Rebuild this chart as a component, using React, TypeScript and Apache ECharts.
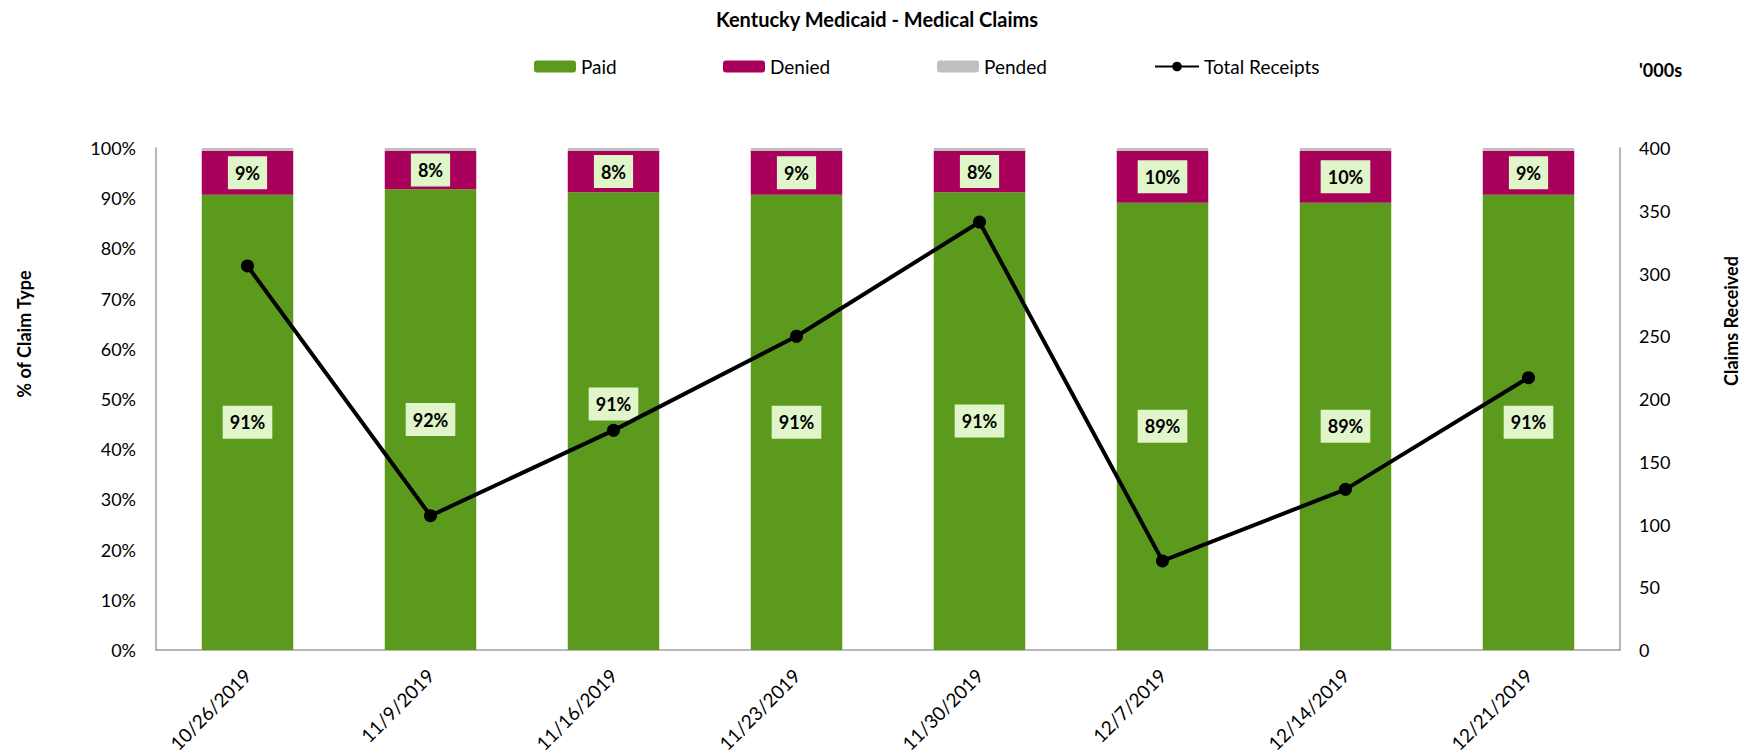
import React, { useEffect, useRef } from "react";
import * as echarts from "echarts";

const categories = ["10/26/2019", "11/9/2019", "11/16/2019", "11/23/2019", "11/30/2019", "12/7/2019", "12/14/2019", "12/21/2019"];
const paidPct = [90.7, 91.8, 91.2, 90.7, 91.2, 89.1, 89.1, 90.7];
const deniedPct = [8.7, 7.6, 8.2, 8.7, 8.2, 10.3, 10.3, 8.7];
const pendedPct = [0.6, 0.6, 0.6, 0.6, 0.6, 0.6, 0.6, 0.6];
const totalReceipts = [306, 107, 175, 250, 341, 71, 128, 217];
const leftTicks = { min: 0, max: 100, interval: 10 };
const rightTicks = { min: 0, max: 400, interval: 50 };

const FONT = "Lato, 'Open Sans', sans-serif";
const GREEN = "#5B9A1D";
const MAGENTA = "#A8005B";
const GRAY = "#C0C0C0";
const LABEL_BG = "#E1F5CA";

const pctLabel = (offset?: number[]) => ({
  show: true,
  position: "inside",
  formatter: (p: any) => Math.round(p.value) + "%",
  color: "#000",
  fontFamily: FONT,
  fontWeight: "bold",
  fontSize: 18,
  lineHeight: 18,
  backgroundColor: LABEL_BG,
  padding: [8, 7, 7, 7],
  ...(offset ? { offset } : {}),
});

export default function App() {
  const ref = useRef<HTMLDivElement>(null);
  useEffect(() => {
    if (!ref.current) return;
    const chart = echarts.init(ref.current, null, { renderer: "svg" });
    const paidData = paidPct.map((v, i) =>
      i === 2 ? { value: v, label: pctLabel([0, -17]) } : v
    );
    const legendBase = {
      top: 57,
      padding: 0,
      itemWidth: 42,
      itemHeight: 12,
      itemGap: 4,
      textStyle: { fontFamily: FONT, fontSize: 19, color: "#000" },
    };
    const axisName = (text: string, x: number, y: number) => ({
      type: "text",
      x,
      y,
      rotation: Math.PI / 2,
      style: {
        text,
        fontFamily: FONT,
        fontSize: 18,
        fontWeight: "bold",
        fill: "#000",
        align: "center",
        verticalAlign: "middle",
      },
    });
    chart.setOption({
      animation: false,
      backgroundColor: "#fff",
      title: {
        text: "Kentucky Medicaid - Medical Claims",
        left: "center",
        top: 4,
        textStyle: { fontFamily: FONT, fontSize: 20, fontWeight: "bold", color: "#000" },
      },
      legend: [
        { ...legendBase, left: 534, data: ["Paid"] },
        { ...legendBase, left: 723, data: ["Denied"] },
        { ...legendBase, left: 937, data: ["Pended"] },
        { ...legendBase, left: 1154, itemWidth: 44, data: ["Total Receipts"] },
      ],
      graphic: [
        {
          type: "text",
          left: 1639,
          top: 61,
          style: { text: "'000s", fontFamily: FONT, fontSize: 18, fontWeight: "bold", fill: "#000" },
        },
        axisName("% of Claim Type", 24, 334),
        axisName("Claims Received", 1731, 321),
      ],
      grid: { left: 156, right: 134, top: 148, bottom: 106 },
      xAxis: {
        type: "category",
        data: categories,
        axisLine: { lineStyle: { color: "#A0A0A0", width: 1.5 } },
        axisTick: { show: false },
        axisLabel: { rotate: 45, fontFamily: FONT, fontSize: 19, color: "#000", margin: 22 },
      },
      yAxis: [
        {
          type: "value",
          ...leftTicks,
          axisLine: { show: true, lineStyle: { color: "#A0A0A0", width: 1.5 } },
          axisTick: { show: false },
          splitLine: { show: false },
          axisLabel: { formatter: "{value}%", fontFamily: FONT, fontSize: 18, color: "#000", margin: 20 },
        },
        {
          type: "value",
          ...rightTicks,
          position: "right",
          axisLine: { show: true, lineStyle: { color: "#A0A0A0", width: 1.5 } },
          axisTick: { show: false },
          splitLine: { show: false },
          axisLabel: { fontFamily: FONT, fontSize: 18, color: "#000", margin: 19 },
        },
      ],
      series: [
        {
          name: "Paid",
          type: "bar",
          stack: "claims",
          barWidth: "50%",
          data: paidData,
          itemStyle: { color: GREEN },
          label: pctLabel(),
          z: 2,
        },
        {
          name: "Denied",
          type: "bar",
          stack: "claims",
          data: deniedPct,
          itemStyle: { color: MAGENTA },
          label: pctLabel(),
          z: 2,
        },
        {
          name: "Pended",
          type: "bar",
          stack: "claims",
          data: pendedPct,
          itemStyle: { color: GRAY },
          z: 2,
        },
        {
          name: "Total Receipts",
          type: "line",
          yAxisIndex: 1,
          data: totalReceipts,
          symbol: "circle",
          symbolSize: 13,
          itemStyle: { color: "#000" },
          lineStyle: { color: "#000", width: 4 },
          z: 3,
        },
      ],
    });
    return () => chart.dispose();
  }, []);
  return (
    <div
      ref={ref}
      style={{ position: "absolute", left: 0, top: 0, width: 1754, height: 756 }}
    />
  );
}
